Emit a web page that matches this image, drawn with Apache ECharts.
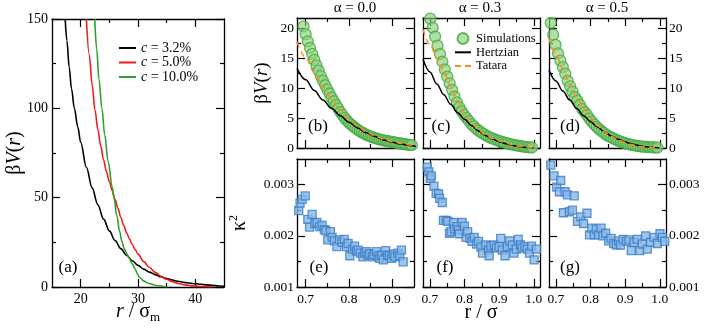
<!DOCTYPE html>
<html>
<head>
<meta charset="utf-8">
<script src="https://cdn.jsdelivr.net/npm/echarts@6.0.0/dist/echarts.min.js"></script>
<style>html,body{margin:0;padding:0;background:#fff}#container{width:706px;height:329px}</style>
</head>
<body>
<div id="container"></div>
<script>
// (a) effective potential, three concentrations
var aR32 = [17.3,17.6,18.0,18.4,18.9,19.5,20,21,22,23,24,25,26,27,28,29,30,31,32,33,34,35,36,37,38,39,40,41,42,43,44,45];
var aV32 = [150,138,123,111,100,89.5,81,67,55.5,46,38,31.4,26,21.5,17.8,14.7,12.1,10.0,8.3,6.9,5.7,4.7,3.9,3.2,2.6,2.2,1.8,1.5,1.2,0.9,0.6,0.4];
var aR50 = [21.0,21.5,22.0,22.5,23,23.5,24,24.5,25,25.5,26,26.5,27,27.5,28,28.5,29,29.5,30,31,32,33,34,35,36,37,38,39,40,41,42,43];
var aV50 = [150,130,113,99,88,79,71,64.5,59,54,49,44,39,34.5,30.5,27,23.8,21,18.4,14.2,10.9,8.2,6.0,4.3,3.0,2.0,1.3,0.8,0.5,0.25,0.1,0];
var aR100 = [22.45,22.8,23.2,23.7,24.2,24.8,25.5,25.8,26.3,26.8,27.2,27.6,28.0,28.4,29.0,29.5,29.9,30.3,31.0,32.0,33.4,35.0];
var aV100 = [150,133,116,100,85,70,56,50,40,31,25.5,21.5,18.8,16.5,13,10,7.2,5.3,3.3,1.8,0.7,0.05];

// (b)-(d) potential: simulations and two models
var modelR  = [0.68,0.70,0.72,0.74,0.76,0.78,0.80,0.82,0.84,0.86,0.88,0.90,0.92,0.94,0.96,0.98,1.00];
var hertzB  = [13.3,11.4,9.6,8.0,6.6,5.4,4.3,3.35,2.55,1.9,1.35,0.95,0.65,0.42,0.22,0.08,0];
var hertzC  = [14.8,12.7,10.7,8.9,7.3,5.9,4.8,3.75,2.85,2.1,1.5,1.05,0.7,0.42,0.2,0.07,0];
var hertzD  = [13.0,11.2,9.5,8.0,6.6,5.4,4.4,3.5,2.7,2.0,1.45,1.0,0.68,0.4,0.2,0.07,0];
var tataraB = [17.7,15.1,12.6,10.2,8.1,6.3,4.8,3.6,2.7,2.0,1.45,1.05,0.75,0.52,0.33,0.15,0.02];
var tataraC = [19.8,17.3,15.0,12.7,10.3,7.8,5.7,4.15,3.0,2.2,1.6,1.15,0.8,0.5,0.28,0.1,0];
var tataraD = [18.3,15.7,13.2,10.7,8.5,6.6,5.0,3.7,2.7,1.95,1.35,0.9,0.55,0.3,0.14,0.04,0];

var simRB = [0.695,0.700,0.705,0.710,0.715,0.720,0.725,0.730,0.735,0.740,0.745,0.750,0.755,0.760,0.765,0.770,0.775,0.780,0.785,0.790,0.795,0.800,0.805,0.810,0.815,0.820,0.825,0.830,0.835,0.840,0.845,0.850,0.855,0.860,0.865,0.870,0.875,0.880,0.885,0.890,0.895,0.900,0.905,0.910,0.915,0.920,0.925,0.930,0.935,0.940,0.945];
var simVB = [20.3,19.0,17.8,16.7,15.7,14.7,13.8,12.9,12.0,11.2,10.5,9.8,9.1,8.4,7.8,7.2,6.6,6.0,5.5,5.0,4.6,4.2,3.9,3.6,3.3,3.05,2.8,2.6,2.4,2.2,2.05,1.9,1.78,1.65,1.55,1.45,1.36,1.28,1.2,1.13,1.06,1.0,0.93,0.87,0.81,0.75,0.69,0.63,0.57,0.52,0.47];
var simRC = [0.701,0.708,0.715,0.722,0.729,0.736,0.743,0.750,0.757,0.764,0.771,0.778,0.785,0.792,0.799,0.806,0.813,0.820,0.827,0.834,0.841,0.848,0.855,0.862,0.869,0.876,0.883,0.890,0.897,0.904,0.911,0.918,0.925,0.932,0.939,0.946,0.953,0.960,0.967,0.974,0.981,0.988,0.995];
var simVC = [21.6,20.1,18.6,17.1,15.7,14.4,13.1,11.9,10.8,9.7,8.6,7.6,6.8,6.1,5.5,5.0,4.5,4.0,3.6,3.2,2.9,2.6,2.35,2.1,1.9,1.7,1.52,1.38,1.24,1.1,0.97,0.86,0.76,0.66,0.57,0.48,0.4,0.33,0.26,0.2,0.15,0.11,0.08];
var simRD = [0.685,0.692,0.699,0.706,0.713,0.720,0.727,0.734,0.741,0.748,0.755,0.762,0.769,0.776,0.783,0.790,0.797,0.804,0.811,0.818,0.825,0.832,0.839,0.846,0.853,0.860,0.867,0.874,0.881,0.888,0.895,0.902,0.909,0.916,0.923,0.930,0.937,0.944,0.951,0.958,0.965,0.972,0.979,0.986,0.993];
var simVD = [20.9,18.9,17.2,15.8,14.6,13.5,12.4,11.2,10.3,9.4,8.5,7.9,7.2,6.5,6.0,5.5,4.9,4.4,3.9,3.5,3.15,2.8,2.5,2.2,1.95,1.75,1.55,1.37,1.2,1.05,0.9,0.78,0.67,0.57,0.48,0.4,0.33,0.28,0.24,0.2,0.17,0.14,0.11,0.08,0.06];

// (e)-(g) kappa^2
var rE = [0.684,0.687,0.692,0.699,0.705,0.709,0.715,0.721,0.726,0.732,0.738,0.743,0.747,0.751,0.757,0.761,0.766,0.772,0.778,0.784,0.789,0.794,0.798,0.802,0.808,0.813,0.817,0.821,0.826,0.832,0.836,0.840,0.844,0.848,0.854,0.858,0.863,0.867,0.871,0.875,0.879,0.885,0.889,0.893,0.898,0.902,0.906,0.913,0.917,0.921,0.925];
var kE = [0.00249,0.00264,0.00271,0.00278,0.00232,0.00217,0.00242,0.00224,0.00226,0.00218,0.00221,0.00212,0.00210,0.00192,0.00208,0.00197,0.00190,0.00179,0.00192,0.00187,0.00193,0.00179,0.00185,0.00161,0.00174,0.00180,0.00170,0.00172,0.00166,0.00159,0.00166,0.00169,0.00162,0.00165,0.00159,0.00163,0.00169,0.00160,0.00156,0.00162,0.00153,0.00171,0.00162,0.00161,0.00156,0.00164,0.00159,0.00166,0.00161,0.00172,0.00149];
var rF = [0.6926,0.697,0.701,0.704,0.7115,0.718,0.725,0.728,0.7356,0.739,0.747,0.7516,0.7565,0.761,0.768,0.771,0.7786,0.7823,0.785,0.793,0.7995,0.8043,0.809,0.8158,0.8215,0.828,0.8348,0.8405,0.8473,0.852,0.8616,0.869,0.8711,0.876,0.8854,0.892,0.8997,0.9045,0.9092,0.917,0.9236,0.9304,0.938,0.9428,0.9495,0.955,0.962,0.9665,0.9743,0.981,0.9877,0.9935,1.001,1.0078];
var kF = [0.00334,0.00325,0.00312,0.00317,0.00297,0.00283,0.00282,0.00273,0.00265,0.00230,0.00230,0.00228,0.00205,0.00208,0.00226,0.00213,0.00218,0.00211,0.00204,0.00226,0.00219,0.00197,0.00208,0.00195,0.00189,0.00197,0.00184,0.00189,0.00178,0.00166,0.00182,0.00172,0.00161,0.00180,0.00182,0.00176,0.00179,0.00195,0.00172,0.00161,0.00179,0.00190,0.00182,0.00166,0.00174,0.00193,0.00182,0.00176,0.00179,0.00174,0.00166,0.00180,0.00153,0.00174];
var rG = [0.685,0.6945,0.7024,0.71,0.714,0.7216,0.7265,0.733,0.739,0.7477,0.7527,0.7623,0.772,0.7797,0.7896,0.797,0.804,0.8108,0.8166,0.8233,0.8303,0.8361,0.8437,0.8524,0.8594,0.867,0.8748,0.8815,0.8864,0.8943,0.9038,0.9106,0.9175,0.9252,0.935,0.9426,0.9494,0.959,0.964,0.9735,0.9833,0.993,1.0006,1.0076,1.0143];
var kG = [0.00338,0.00317,0.00295,0.00286,0.00308,0.00245,0.00286,0.00280,0.00247,0.00250,0.00278,0.00228,0.00237,0.00224,0.00244,0.00202,0.00215,0.00202,0.00213,0.00202,0.00215,0.00200,0.00205,0.00190,0.00195,0.00185,0.00182,0.00190,0.00182,0.00193,0.00189,0.00192,0.00171,0.00187,0.00193,0.00171,0.00184,0.00200,0.00174,0.00187,0.00197,0.00185,0.00204,0.00197,0.00189];

// ticks
var aXTicks = [20, 30, 40], aXMinor = [25, 35];
var aYTicks = [0, 50, 100, 150], aYMinor = [25, 75, 125];
var vTicks = [0, 5, 10, 15, 20], vMinor = [2.5, 7.5, 12.5, 17.5];
var kTicks = [0.001, 0.002, 0.003], kMinor = [0.0015, 0.0025];
var rTicksB = [0.7, 0.8, 0.9], rMinorB = [0.75, 0.85];
var rTicks = [0.7, 0.8, 0.9, 1.0], rMinor = [0.75, 0.85, 0.95];
var alphas = ['α = 0.0', 'α = 0.3', 'α = 0.5'];

var FONT = 'Liberation Serif';
var dom = document.getElementById('container');
var myChart = echarts.init(dom);

function pts(xs, ys) {
    return xs.map(function (x, i) { return [x, ys[i]]; });
}
function f1(v) { return v.toFixed(1); }
function f3(v) { return v.toFixed(3); }

var xAxes = [], yAxes = [];
function addAxis(list, gi, pos, range, ticks, len, showLine, lab) {
    list.push({
        type: 'value', gridIndex: gi, position: pos, min: range[0], max: range[1],
        axisLine: {show: showLine, onZero: false, lineStyle: {color: '#000', width: 1.3}},
        axisTick: {show: true, inside: true, length: len, customValues: ticks, lineStyle: {color: '#000', width: 1.2}},
        axisLabel: lab ? {show: true, customValues: lab.values, formatter: lab.fmt, fontFamily: FONT,
            fontSize: lab.size, color: '#000', margin: lab.margin} : {show: false},
        splitLine: {show: false}
    });
    return list.length - 1;
}
// frame with inside ticks on all four sides
function panel(gi, xr, yr, xMaj, xMin, yMaj, yMin, xLab, yLab, ySide) {
    var xi = addAxis(xAxes, gi, 'bottom', xr, xMaj, 8, true, xLab);
    addAxis(xAxes, gi, 'bottom', xr, xMin, 4, false, null);
    addAxis(xAxes, gi, 'top', xr, xMaj, 8, true, null);
    addAxis(xAxes, gi, 'top', xr, xMin, 4, false, null);
    var yi = addAxis(yAxes, gi, 'left', yr, yMaj, 8, true, ySide === 'left' ? yLab : null);
    addAxis(yAxes, gi, 'left', yr, yMin, 4, false, null);
    addAxis(yAxes, gi, 'right', yr, yMaj, 8, true, ySide === 'right' ? yLab : null);
    addAxis(yAxes, gi, 'right', yr, yMin, 4, false, null);
    return {x: xi, y: yi};
}

var grids = [
    {left: 52, top: 19, width: 172, height: 268},
    {left: 297, top: 18, width: 117, height: 130},
    {left: 423, top: 18, width: 117, height: 130},
    {left: 549, top: 18, width: 117, height: 130},
    {left: 297, top: 159, width: 117, height: 128},
    {left: 423, top: 159, width: 117, height: 128},
    {left: 549, top: 159, width: 117, height: 128}
];

var vRange = [0, 21.7], kRange = [0.001, 0.0035];
var rShort = [0.68, 0.95], rLong = [0.68, 1.018];
var vLab = {values: vTicks, fmt: String, size: 13.5, margin: 3};
var kLab = {values: kTicks, fmt: f3, size: 13.5, margin: 3};

var pa = panel(0, [15, 45], [0, 150], aXTicks, aXMinor, aYTicks, aYMinor,
    {values: aXTicks, fmt: String, size: 14, margin: 5}, {values: aYTicks, fmt: String, size: 14, margin: 4}, 'left');
var pb = panel(1, rShort, vRange, rTicksB, rMinorB, vTicks, vMinor, null, vLab, 'left');
var pc = panel(2, rLong, vRange, rTicks, rMinor, vTicks, vMinor, null, null, null);
var pd = panel(3, rLong, vRange, rTicks, rMinor, vTicks, vMinor, null, vLab, 'right');
var pe = panel(4, rShort, kRange, rTicksB, rMinorB, kTicks, kMinor, {values: rTicksB, fmt: f1, size: 13.5, margin: 5}, kLab, 'left');
var pf = panel(5, rLong, kRange, rTicks, rMinor, kTicks, kMinor, {values: rTicks, fmt: f1, size: 13.5, margin: 5}, null, null);
var pg = panel(6, rLong, kRange, rTicks, rMinor, kTicks, kMinor, {values: rTicks, fmt: f1, size: 13.5, margin: 5}, kLab, 'right');

function curve(p, name, data, color, width, dashed) {
    return {
        type: 'line', name: name, xAxisIndex: p.x, yAxisIndex: p.y, data: data,
        symbol: 'none', smooth: 0.35, smoothMonotone: 'x', color: color,
        lineStyle: {color: color, width: width, type: dashed ? [6, 4] : 'solid'}
    };
}
function sims(p, data) {
    return {
        type: 'scatter', name: 'Simulations', xAxisIndex: p.x, yAxisIndex: p.y, data: data,
        symbol: 'circle', symbolSize: 11, color: 'rgba(140,208,120,0.82)',
        itemStyle: {color: 'rgba(140,208,120,0.82)', borderColor: '#45a845', borderWidth: 1.3}
    };
}
function kappa(p, data) {
    return {
        type: 'scatter', name: 'kappa', xAxisIndex: p.x, yAxisIndex: p.y, data: data,
        symbol: 'rect', symbolSize: 8,
        itemStyle: {color: '#88b8e4', borderColor: '#3b7dc9', borderWidth: 1.3}
    };
}

var series = [
    curve(pa, 'c = 3.2%', pts(aR32, aV32), '#000000', 1.6),
    curve(pa, 'c = 5.0%', pts(aR50, aV50), '#ee1c1c', 1.6),
    curve(pa, 'c = 10.0%', pts(aR100, aV100), '#2ea02e', 1.6),
    sims(pb, pts(simRB, simVB)),
    curve(pb, 'Hertzian', pts(modelR, hertzB), '#000000', 1.5),
    curve(pb, 'Tatara', pts(modelR, tataraB), '#ff8c1a', 1.5, true),
    sims(pc, pts(simRC, simVC)),
    curve(pc, 'Hertzian', pts(modelR, hertzC), '#000000', 1.5),
    curve(pc, 'Tatara', pts(modelR, tataraC), '#ff8c1a', 1.5, true),
    sims(pd, pts(simRD, simVD)),
    curve(pd, 'Hertzian', pts(modelR, hertzD), '#000000', 1.5),
    curve(pd, 'Tatara', pts(modelR, tataraD), '#ff8c1a', 1.5, true),
    kappa(pe, pts(rE, kE)),
    kappa(pf, pts(rF, kF)),
    kappa(pg, pts(rG, kG))
];

function txt(x, y, text, size, extra) {
    var o = {type: 'text', x: x, y: y, style: {text: text, fontFamily: FONT, fontSize: size, fill: '#000',
        align: 'center', verticalAlign: 'middle'}};
    if (extra) {
        for (var k in extra) {
            if (k === 'rich') o.style.rich = extra.rich; else o[k] = extra[k];
        }
    }
    return o;
}
var it = function (s) { return {fontFamily: FONT, fontSize: s, fontStyle: 'italic', fill: '#000'}; };
var rm = function (s) { return {fontFamily: FONT, fontSize: s, fill: '#000'}; };

var graphic = [
    txt(355, 8, alphas[0], 15), txt(480, 8, alphas[1], 15), txt(607, 8, alphas[2], 15),
    txt(68, 268, '(a)', 17), txt(318, 127, '(b)', 17), txt(441, 127, '(c)', 17), txt(570, 127, '(d)', 17),
    txt(319, 268, '(e)', 17), txt(445, 268, '(f)', 17), txt(570, 268, '(g)', 17),
    txt(15, 153, '{n|β}{i|V}{n|(}{i|r}{n|)}', 20, {rotation: Math.PI / 2, rich: {n: rm(20), i: it(20)}}),
    txt(262, 83, '{n|β}{i|V}{n|(}{i|r}{n|)}', 19, {rotation: Math.PI / 2, rich: {n: rm(19), i: it(19)}}),
    txt(240, 223, '{n|κ}{s|2}', 19, {rotation: Math.PI / 2, rich: {n: Object.assign(rm(20), {lineHeight: 24}),
        s: Object.assign(rm(12), {lineHeight: 12, verticalAlign: 'top'})}}),
    txt(138, 312, '{i|r}{n| / σ}{s|m}', 20, {rich: {i: Object.assign(it(20), {lineHeight: 24}),
        n: Object.assign(rm(20), {lineHeight: 24}), s: Object.assign(rm(13), {lineHeight: 13, verticalAlign: 'bottom'})}}),
    txt(481, 313, 'r / σ', 20)
];

// legend entries for plain lines: hide the marker drawn in the middle of the line icon
var noMark = {color: 'rgba(0,0,0,0)', borderColor: 'rgba(0,0,0,0)', borderWidth: 0};

option = null;
option = {
    backgroundColor: '#ffffff',
    animation: false,
    grid: grids,
    xAxis: xAxes,
    yAxis: yAxes,
    legend: [
        {
            data: [
                {name: 'c = 3.2%', itemStyle: noMark},
                {name: 'c = 5.0%', itemStyle: noMark},
                {name: 'c = 10.0%', itemStyle: noMark}
            ],
            orient: 'vertical', left: 118, top: 41, padding: 0,
            itemWidth: 17, itemHeight: 14, itemGap: 0.5, selectedMode: false,
            formatter: function (n) { return '{i|c}' + n.slice(1); },
            textStyle: {fontFamily: FONT, fontSize: 14, color: '#000', rich: {i: {fontFamily: FONT, fontSize: 14, fontStyle: 'italic', color: '#000'}}}
        },
        {
            data: ['Simulations', {name: 'Hertzian', itemStyle: noMark}, {name: 'Tatara', itemStyle: noMark}],
            orient: 'vertical', left: 454, top: 32, padding: 0,
            itemWidth: 16, itemHeight: 11, itemGap: 0.8, selectedMode: false,
            textStyle: {fontFamily: FONT, fontSize: 12.5, color: '#000'}
        }
    ],
    graphic: graphic,
    series: series
};
if (option && typeof option === "object") {
    myChart.setOption(option, true);
}
</script>
</body>
</html>
